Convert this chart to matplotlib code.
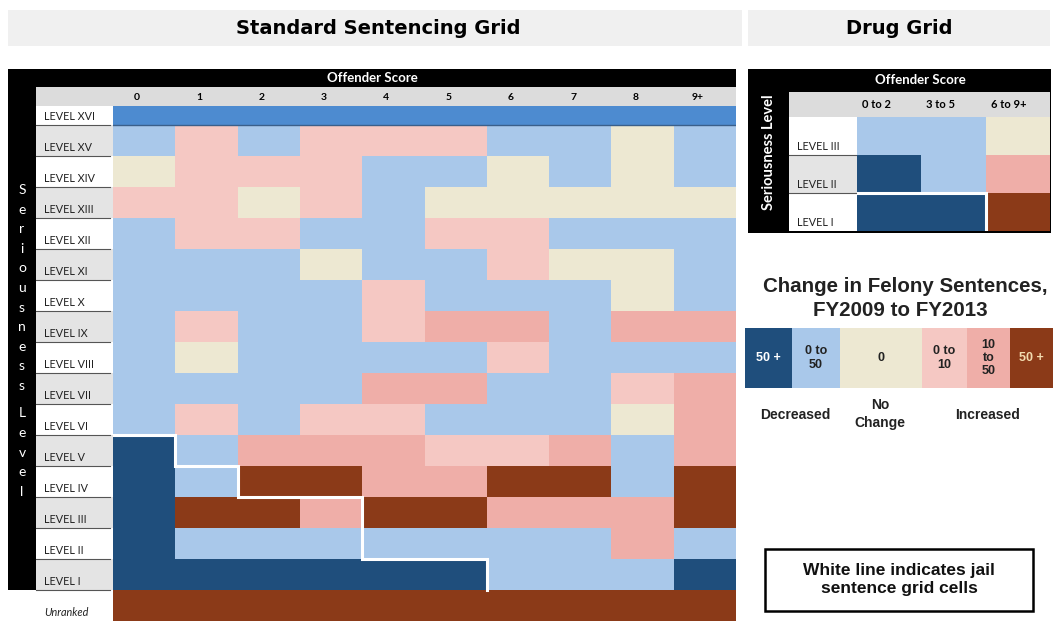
import numpy as np
import matplotlib.pyplot as plt
from matplotlib.colors import ListedColormap, BoundaryNorm
from matplotlib.patches import Rectangle

W, H = 1054, 623

# codigos: 0 baja 50+, 1 baja 0-50, 2 sin cambio, 3 sube 0-10, 4 sube 10-50, 5 sube 50+, 6 nivel XVI
colores = ['#1f4e7c', '#a9c8ea', '#ede8d2', '#f5c8c3', '#efaea8', '#8b3a18', '#4d8bd0']

columnas = ['0', '1', '2', '3', '4', '5', '6', '7', '8', '9+']
niveles = ['LEVEL XVI', 'LEVEL XV', 'LEVEL XIV', 'LEVEL XIII', 'LEVEL XII', 'LEVEL XI',
           'LEVEL X', 'LEVEL IX', 'LEVEL VIII', 'LEVEL VII', 'LEVEL VI', 'LEVEL V',
           'LEVEL IV', 'LEVEL III', 'LEVEL II', 'LEVEL I', 'Unranked']
cambios = [
    [6, 6, 6, 6, 6, 6, 6, 6, 6, 6],
    [1, 3, 1, 3, 3, 3, 1, 1, 2, 1],
    [2, 3, 3, 3, 1, 1, 2, 1, 2, 1],
    [3, 3, 2, 3, 1, 2, 2, 2, 2, 2],
    [1, 3, 3, 1, 1, 3, 3, 1, 1, 1],
    [1, 1, 1, 2, 1, 1, 3, 2, 2, 1],
    [1, 1, 1, 1, 3, 1, 1, 1, 2, 1],
    [1, 3, 1, 1, 3, 4, 4, 1, 4, 4],
    [1, 2, 1, 1, 1, 1, 3, 1, 1, 1],
    [1, 1, 1, 1, 4, 4, 1, 1, 3, 4],
    [1, 3, 1, 3, 3, 1, 1, 1, 2, 4],
    [0, 1, 4, 4, 4, 3, 3, 4, 1, 4],
    [0, 1, 5, 5, 4, 4, 5, 5, 1, 5],
    [0, 5, 5, 4, 5, 5, 4, 4, 4, 5],
    [0, 1, 1, 1, 1, 1, 1, 1, 4, 1],
    [0, 0, 0, 0, 0, 0, 1, 1, 1, 0],
    [5, 5, 5, 5, 5, 5, 5, 5, 5, 5],
]
# linea blanca (columna, fila) de celdas con carcel
carcel_x = [0, 1, 1, 2, 2, 4, 4, 6, 6]
carcel_f = [11, 11, 12, 12, 13, 13, 15, 15, 16]

col_droga = ['0 to 2', '3 to 5', '6 to 9+']
niv_droga = ['LEVEL III', 'LEVEL II', 'LEVEL I']
droga = [
    [1, 1, 2],
    [0, 1, 4],
    [0, 0, 5],
]
droga_x = [0, 2, 2]
droga_f = [2, 2, 3]

ley_textos = ['50 +', '0 to\n50', '0', '0 to\n10', '10\nto\n50', '50 +']
ley_codigos = [0, 1, 2, 3, 4, 5]
ley_bordes = [745, 792, 840, 922, 967, 1010, 1053]

cmap = ListedColormap(colores)
norm = BoundaryNorm(np.arange(-0.5, 7.5, 1), cmap.N)

lab = ['Lato', 'DejaVu Sans']
hel = ['Liberation Sans', 'DejaVu Sans']
cond = ['Liberation Sans Narrow', 'DejaVu Sans']

fig = plt.figure(figsize=(W / 100, H / 100), dpi=100)
bg = fig.add_axes([0, 0, 1, 1])
bg.set_xlim(0, W)
bg.set_ylim(H, 0)
bg.axis('off')

# titulos
bg.add_patch(Rectangle((8, 10), 734, 36, color='#f0f0f0', lw=0))
bg.add_patch(Rectangle((748, 10), 302, 36, color='#f0f0f0', lw=0))
bg.text(378, 28, 'Standard Sentencing Grid', ha='center', va='center', fontsize=14,
        weight='bold', family=cond)
bg.text(899, 28, 'Drug Grid', ha='center', va='center', fontsize=14,
        weight='bold', family=cond)

# ---- grilla estandar ----
gx0, gx1, gy0, gy1 = 113, 736, 106, 621
alturas = [0.6] + [1] * 16
yb = np.concatenate([[0], np.cumsum(alturas)])
esc = (gy1 - gy0) / yb[-1]
cw = (gx1 - gx0) / len(columnas)

bg.add_patch(Rectangle((8, 69), gx1 - 8, 18, color='black', lw=0))
bg.add_patch(Rectangle((8, 69), 28, gy0 + yb[16] * esc - 69, color='black', lw=0))
bg.add_patch(Rectangle((36, 87), gx1 - 36, gy0 - 87, color='#dcdcdc', lw=0))
bg.text((8 + gx1) / 2, 78, 'Offender Score', ha='center', va='center', color='white',
        fontsize=9.5, weight='bold', family=lab)
for i, c in enumerate(columnas):
    bg.text(gx0 + (i + 0.5) * cw - 7, 97, c, ha='center', va='center', fontsize=7.5,
            weight='bold', family=lab)

for i, n in enumerate(niveles):
    top = gy0 + yb[i] * esc
    bot = gy0 + yb[i + 1] * esc
    x0 = 8 if n == 'Unranked' else 36
    fc = 'white' if i % 2 == 0 else '#e4e4e4'
    bg.add_patch(Rectangle((x0, top), gx0 - x0, bot - top, color=fc, lw=0))
    if i < len(niveles) - 1:
        bg.plot([36, 110], [bot, bot], color='#555555', lw=0.8)
    bg.text(44, bot - 3, n, ha='left', va='bottom', fontsize=7.8, color='#222222',
            family=lab, style='italic' if n == 'Unranked' else 'normal')

letras = 'Seriousness Level'
k = 0
for ch in letras:
    if ch == ' ':
        k += 0.4
        continue
    bg.text(22, 190 + k * 19.6, ch, ha='center', va='center', color='white',
            fontsize=10, family=lab)
    k += 1

ax = fig.add_axes([gx0 / W, 1 - gy1 / H, (gx1 - gx0) / W, (gy1 - gy0) / H])
ax.pcolormesh(np.arange(len(columnas) + 1), yb, np.array(cambios), cmap=cmap, norm=norm)
ax.plot([0, 10], [yb[1], yb[1]], color='#3a5f8a', lw=1)
ax.plot(carcel_x, yb[carcel_f], color='white', lw=2.2, solid_joinstyle='miter')
ax.set_xlim(0, len(columnas))
ax.set_ylim(yb[-1], 0)
ax.axis('off')

# ---- grilla de drogas ----
dx0, dx1, dy0, dy1 = 857, 1050, 117, 231
bg.add_patch(Rectangle((748, 69), 303, 164, color='black', lw=0))
bg.add_patch(Rectangle((789, 92), dx1 - 789, dy0 - 92, color='#dcdcdc', lw=0))
bg.text(920, 80, 'Offender Score', ha='center', va='center', color='white',
        fontsize=9.5, weight='bold', family=lab)
bg.text(769, 152, 'Seriousness Level', ha='center', va='center', color='white',
        fontsize=10.5, weight='bold', family=lab, rotation=90)
dcw = (dx1 - dx0) / len(col_droga)
for i, c in enumerate(col_droga):
    bg.text(dx0 + i * dcw + 5, 104, c, ha='left', va='center', fontsize=8,
            weight='bold', family=lab)
drh = (dy1 - dy0) / len(niv_droga)
for i, n in enumerate(niv_droga):
    top = dy0 + i * drh
    fc = 'white' if i % 2 == 0 else '#e4e4e4'
    bg.add_patch(Rectangle((789, top), dx0 - 789, drh, color=fc, lw=0))
    if i < len(niv_droga) - 1:
        bg.plot([789, dx0], [top + drh, top + drh], color='#555555', lw=0.8)
    bg.text(797, top + drh - 3, n, ha='left', va='bottom', fontsize=7.8, color='#222222',
            family=lab)

ax2 = fig.add_axes([dx0 / W, 1 - dy1 / H, (dx1 - dx0) / W, (dy1 - dy0) / H])
ax2.pcolormesh(np.arange(len(col_droga) + 1), np.arange(len(niv_droga) + 1), np.array(droga),
               cmap=cmap, norm=norm)
ax2.plot(droga_x, droga_f, color='white', lw=2.2, solid_joinstyle='miter')
ax2.set_xlim(0, len(col_droga))
ax2.set_ylim(len(niv_droga), 0)
ax2.axis('off')

# ---- leyenda ----
bg.text(905, 286, 'Change in Felony Sentences,', ha='center', va='center', fontsize=14.8,
        weight='bold', family=hel, color='#222222')
bg.text(900, 310, 'FY2009 to FY2013', ha='center', va='center', fontsize=14.8,
        weight='bold', family=hel, color='#222222')
for i, t in enumerate(ley_textos):
    x0, x1 = ley_bordes[i], ley_bordes[i + 1]
    bg.add_patch(Rectangle((x0, 328), x1 - x0, 60, color=colores[ley_codigos[i]], lw=0))
    tc = 'white' if i == 0 else ('#f3dcb0' if i == 5 else '#222222')
    bg.text((x0 + x1) / 2, 358, t, ha='center', va='center', fontsize=9, weight='bold',
            family=hel, color=tc, linespacing=1.15)
bg.text(795, 415, 'Decreased', ha='center', va='center', fontsize=10, weight='bold',
        family=hel, color='#222222')
bg.text(880, 414, 'No\nChange', ha='center', va='center', fontsize=10, weight='bold',
        family=hel, color='#222222', linespacing=1.3)
bg.text(988, 415, 'Increased', ha='center', va='center', fontsize=10, weight='bold',
        family=hel, color='#222222')

bg.add_patch(Rectangle((765, 549), 268, 62, fill=False, ec='black', lw=1.8))
bg.text(899, 580, 'White line indicates jail\nsentence grid cells', ha='center',
        va='center', fontsize=12.5, weight='bold', family=hel, color='#111111',
        linespacing=1.25)

fig.savefig('out.png', dpi=100)
